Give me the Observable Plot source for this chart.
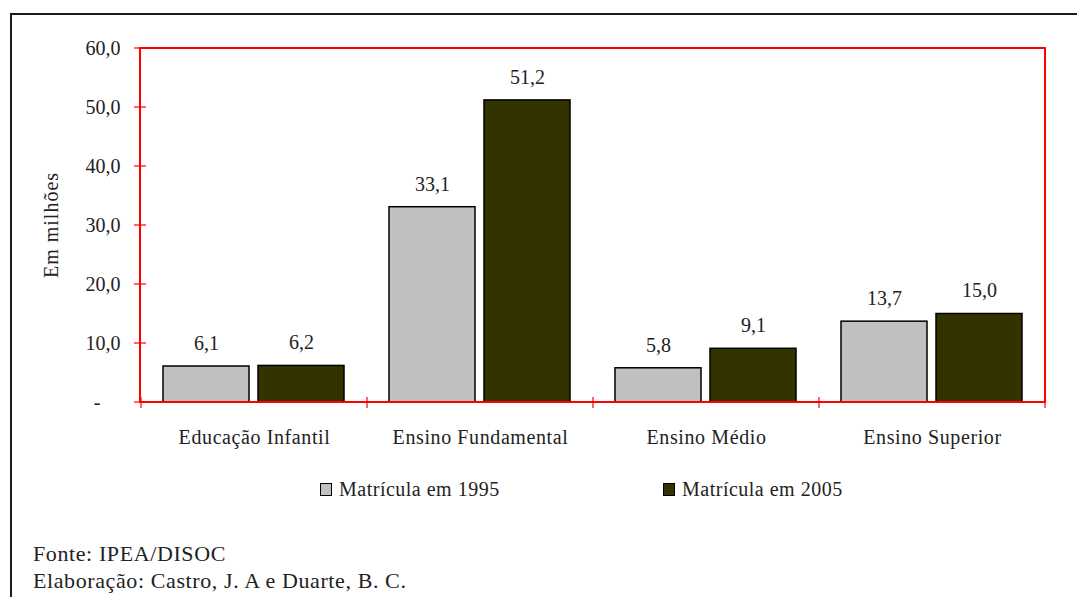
<!DOCTYPE html>
<html lang="pt">
<head>
<meta charset="utf-8">
<script src="https://cdn.jsdelivr.net/npm/d3@7"></script>
<script src="https://cdn.jsdelivr.net/npm/@observablehq/plot@0.6"></script>
<style>
  body { margin: 0; font-family: "Liberation Serif"; font-size: 20px; color: #222; }
  #box { position: absolute; left: 10px; top: 13px; width: 1080px; height: 600px;
         border-top: 2px solid #1a1a1a; border-left: 2px solid #1a1a1a; pointer-events: none; }
  #chart svg { display: block; }
  #legend { position: relative; height: 24px; margin-top: 18px; }
  .item { position: absolute; top: 0; display: flex; align-items: center; letter-spacing: 0.5px; }
  .sw { width: 10px; height: 11px; border: 1.5px solid #000; margin-right: 7px; }
  #notes { margin: 38px 0 0 33px; font-size: 22px; line-height: 27px; letter-spacing: 0.6px; }
</style>
</head>
<body>
<div id="box"></div>
<div id="chart"></div>
<div id="legend">
  <div class="item" style="left:320px"><span class="sw"></span>Matrícula em 1995</div>
  <div class="item" style="left:663px"><span class="sw"></span>Matrícula em 2005</div>
</div>
<div id="notes">
  <div>Fonte: IPEA/DISOC</div>
  <div>Elaboração: Castro, J. A e Duarte, B. C.</div>
</div>
<script>
// Matrículas por nível de ensino, 1995 e 2005 (em milhões)
const categories = ["Educação Infantil", "Ensino Fundamental", "Ensino Médio", "Ensino Superior"];
const years = ["1995", "2005"];
const values1995 = [6.1, 33.1, 5.8, 13.7];
const values2005 = [6.2, 51.2, 9.1, 15.0];
const yTicks = [0, 10, 20, 30, 40, 50, 60];
const yLabel = "Em milhões";
const colors = ["#c0c0c0", "#333300"];
const serif = "Liberation Serif";

const data = categories.flatMap((category, i) => [
  { category, year: years[0], value: values1995[i] },
  { category, year: years[1], value: values2005[i] }
]);

const fmt = v => v.toFixed(1).replace(".", ",");
const tickFmt = v => v === 0 ? "-\u2007\u2007" : fmt(v);

const chart = Plot.plot({
  width: 1077,
  height: 460,
  marginTop: 48,
  marginBottom: 58,
  marginLeft: 140,
  marginRight: 32,
  style: { fontFamily: serif, fontSize: "20px" },
  fx: { domain: categories, padding: 0, axis: "bottom", label: null, tickSize: 0, tickPadding: 27 },
  x: { domain: years, paddingInner: 0.094, paddingOuter: 0.229, axis: null },
  y: { domain: [0, 60], ticks: yTicks, tickFormat: tickFmt, tickSize: 0, tickPadding: 21, label: null },
  color: { domain: years, range: colors },
  marks: [
    Plot.barY(data, { fx: "category", x: "year", y: "value", fill: "year", stroke: "#000", strokeWidth: 1.5 }),
    Plot.text(data, { fx: "category", x: "year", y: "value", text: d => fmt(d.value), dy: -23 })
  ]
});
document.getElementById("chart").appendChild(chart);

const svg = d3.select(chart);
svg.attr("font-family", serif).attr("font-size", 20);

// Red plot-area frame with crossing ticks, positioned from the chart's scales
const fx = chart.scale("fx"), y = chart.scale("y");
const x0 = fx.range[0], x1 = fx.range[1];
const yb = y.apply(0), yt = y.apply(60);
const g = svg.append("g").attr("stroke", "#ff0000").attr("fill", "none");
g.append("rect").attr("x", x0).attr("y", yt).attr("width", x1 - x0).attr("height", yb - yt).attr("stroke-width", 2);
yTicks.forEach(t => {
  g.append("line").attr("x1", x0 - 6).attr("x2", x0 + 6).attr("y1", y.apply(t)).attr("y2", y.apply(t)).attr("stroke-width", 1.2);
});
[...fx.domain.map(d => fx.apply(d)), x1].forEach(px => {
  g.append("line").attr("x1", px).attr("x2", px).attr("y1", yb - 5).attr("y2", yb + 6).attr("stroke-width", 1.2);
});
svg.append("text")
  .attr("transform", `translate(53,${(yb + yt) / 2}) rotate(-90)`)
  .attr("text-anchor", "middle").attr("dominant-baseline", "middle")
  .attr("letter-spacing", "1px")
  .text(yLabel);

// Serif face and dark grey ink on every text of the chart
svg.selectAll("text").attr("font-family", serif).attr("fill", "#222");
svg.selectAll("g[aria-label='fx-axis tick label'] text").attr("letter-spacing", "0.6px");

// Legend swatch colours follow the series colours
document.querySelectorAll("#legend .sw").forEach((sw, i) => { sw.style.background = colors[i]; });
</script>
</body>
</html>
